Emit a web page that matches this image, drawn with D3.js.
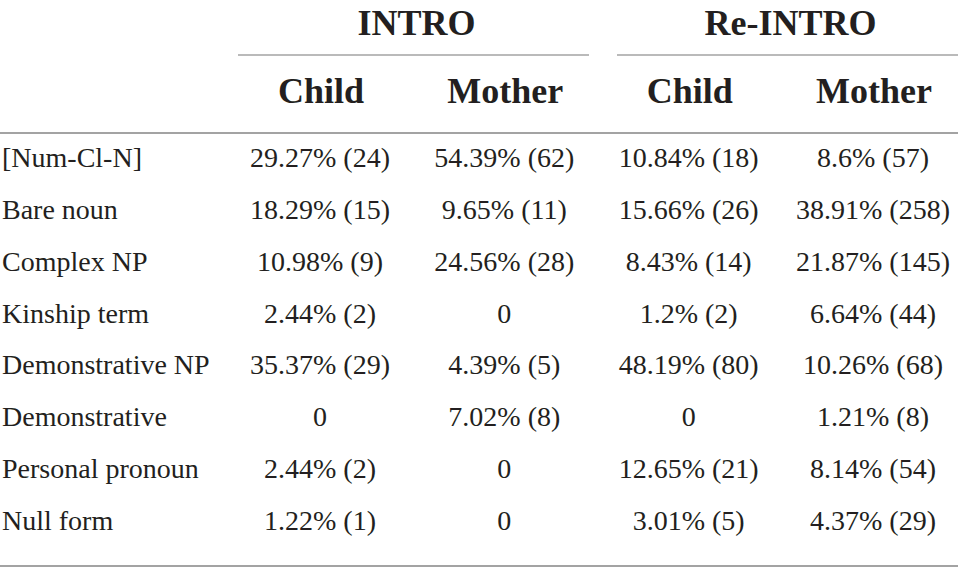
<!DOCTYPE html>
<html>
<head>
<meta charset="utf-8">
<script src="https://cdn.jsdelivr.net/npm/d3@7"></script>
<style>
  body { margin: 0; background: #fff; }
  svg { display: block; }
</style>
</head>
<body>
<script>
// table contents
const groups = ["INTRO", "Re-INTRO"];
const speakers = ["Child", "Mother", "Child", "Mother"];
const forms = ["[Num-Cl-N]", "Bare noun", "Complex NP", "Kinship term",
  "Demonstrative NP", "Demonstrative", "Personal pronoun", "Null form"];
const introChild  = ["29.27% (24)", "18.29% (15)", "10.98% (9)", "2.44% (2)", "35.37% (29)", "0", "2.44% (2)", "1.22% (1)"];
const introMother = ["54.39% (62)", "9.65% (11)", "24.56% (28)", "0", "4.39% (5)", "7.02% (8)", "0", "0"];
const reChild     = ["10.84% (18)", "15.66% (26)", "8.43% (14)", "1.2% (2)", "48.19% (80)", "0", "12.65% (21)", "3.01% (5)"];
const reMother    = ["8.6% (57)", "38.91% (258)", "21.87% (145)", "6.64% (44)", "10.26% (68)", "1.21% (8)", "8.14% (54)", "4.37% (29)"];

const W = 958, H = 569;
const ink = "#231f20", rule = "#a3a3a3";
const serif = "'Liberation Serif', 'DejaVu Serif', serif";

const svg = d3.select("body").append("svg").attr("width", W).attr("height", H);

// column centres
const x = d3.scalePoint().domain(d3.range(4)).range([320, 873]);
// row baselines
const y = d3.scalePoint().domain(forms).range([167, 530]);

// group headers + underline
const gx = [[238, 589], [617, 958]];
groups.forEach((g, i) => {
  svg.append("text")
    .attr("x", (gx[i][0] + gx[i][1]) / 2 + 3).attr("y", 35)
    .attr("text-anchor", "middle")
    .attr("font-family", serif).attr("font-weight", "bold").attr("font-size", 36)
    .attr("fill", ink).text(g);
  svg.append("line")
    .attr("x1", gx[i][0]).attr("x2", gx[i][1]).attr("y1", 55).attr("y2", 55)
    .attr("stroke", rule).attr("stroke-width", 1.5);
});

svg.selectAll("text.sp")
  .data(speakers)
  .enter().append("text")
  .attr("class", "sp")
  .attr("x", (d, i) => x(i) + 1).attr("y", 103)
  .attr("text-anchor", "middle")
  .attr("font-family", serif).attr("font-weight", "bold").attr("font-size", 36)
  .attr("fill", ink).text(d => d);

svg.append("line").attr("x1", 0).attr("x2", W).attr("y1", 133).attr("y2", 133)
  .attr("stroke", rule).attr("stroke-width", 2);
svg.append("line").attr("x1", 0).attr("x2", W).attr("y1", 566).attr("y2", 566)
  .attr("stroke", rule).attr("stroke-width", 2);

// row labels
svg.selectAll("text.lab")
  .data(forms)
  .enter().append("text")
  .attr("class", "lab")
  .attr("x", 2).attr("y", d => y(d))
  .attr("font-family", serif).attr("font-size", 28)
  .attr("fill", ink).text(d => d);

// cells
const cols = [introChild, introMother, reChild, reMother];
cols.forEach((col, c) => {
  svg.selectAll("text.c" + c)
    .data(col)
    .enter().append("text")
    .attr("class", "c" + c)
    .attr("x", x(c)).attr("y", (d, i) => y(forms[i]))
    .attr("text-anchor", "middle")
    .attr("font-family", serif).attr("font-size", 28)
    .attr("fill", ink).text(d => d);
});
</script>
</body>
</html>
